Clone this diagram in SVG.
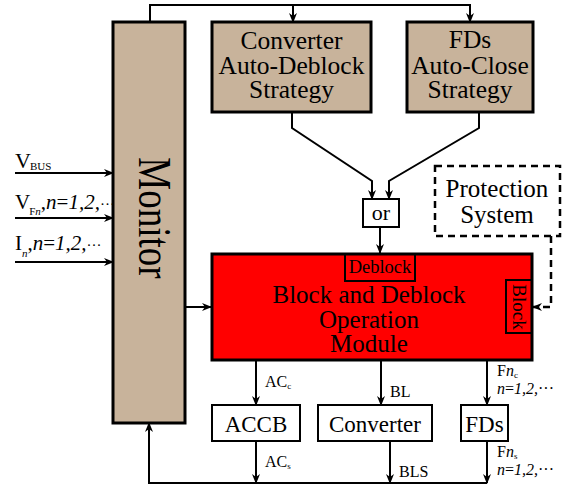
<svg xmlns="http://www.w3.org/2000/svg" width="575" height="491" viewBox="0 0 575 491" font-family="'Liberation Serif', 'DejaVu Serif', serif">
<style>
text{font-family:'Liberation Serif','DejaVu Serif',serif;fill:#000}
.tan{fill:#C8B39B;stroke:#000;stroke-width:3}
.wb{fill:#fff;stroke:#000;stroke-width:2}
.c{fill:none;stroke:#000;stroke-width:2}
.d{fill:none;stroke:#000;stroke-width:2.5;stroke-dasharray:7,5}
.m{text-anchor:middle}
.i{font-style:italic}
</style>
<defs>
<marker id="ah" markerWidth="10" markerHeight="10" refX="9" refY="5" orient="auto" markerUnits="userSpaceOnUse">
<path d="M0,1 L10,5 L0,9 L3,5 z" fill="#000"/>
</marker>
</defs>
<rect width="575" height="491" fill="#fff"/>
<g id="connectors">
<path class="c" d="M150,22 V5 H470 V22" marker-end="url(#ah)"/>
<path class="c" d="M293,5 V22" marker-end="url(#ah)"/>
<path class="c" d="M292,112 V128 L372,181 V199" marker-end="url(#ah)"/>
<path class="c" d="M479,112 V128 L389,181 V199" marker-end="url(#ah)"/>
<path class="c" d="M380,227 V253" marker-end="url(#ah)"/>
<path class="d" d="M551,236 V307 H533" marker-end="url(#ah)"/>
<path class="c" d="M185,307 H211" marker-end="url(#ah)"/>
<path class="c" d="M15,173 H113" marker-end="url(#ah)"/>
<path class="c" d="M15,218 H113" marker-end="url(#ah)"/>
<path class="c" d="M15,262 H113" marker-end="url(#ah)"/>
<path class="c" d="M256,360 V405" marker-end="url(#ah)"/>
<path class="c" d="M381,360 V405" marker-end="url(#ah)"/>
<path class="c" d="M487,360 V405" marker-end="url(#ah)"/>
<path class="c" d="M256,441 V483" marker-end="url(#ah)"/>
<path class="c" d="M390,441 V483" marker-end="url(#ah)"/>
<path class="c" d="M487,441 V483" marker-end="url(#ah)"/>
<path class="c" d="M487,483 H149 V423" marker-end="url(#ah)"/>
</g>
<g id="inputs">
<text x="15" y="168" font-size="22">V<tspan font-size="11" dx="-1" dy="2">BUS</tspan></text>
<text x="15" y="209" font-size="21">V<tspan font-size="11" dx="-1" dy="6">F<tspan class="i">n</tspan></tspan><tspan dy="-6">,</tspan><tspan class="i">n</tspan>=<tspan class="i">1,2,</tspan><tspan font-size="15">···</tspan></text>
<text x="15" y="250" font-size="21">I<tspan font-size="11" dy="7" class="i">n</tspan><tspan dy="-7">,</tspan><tspan class="i">n</tspan>=<tspan class="i">1,2,</tspan><tspan font-size="15">···</tspan></text>
</g>
<g id="monitor">
<rect x="113" y="22" width="72" height="401" class="tan" stroke-width="2.5"/>
<text class="m" font-size="37" transform="translate(139,218) rotate(90) scale(1,1.25)">Monitor</text>
</g>
<g id="converter-strategy">
<rect x="212" y="22" width="159" height="90" class="tan"/>
<text class="m" font-size="25.5"><tspan x="291.5" y="49">Converter</tspan><tspan x="291.5" y="74">Auto-Deblock</tspan><tspan x="291.5" y="98">Strategy</tspan></text>
</g>
<g id="fds-strategy">
<rect x="407" y="22" width="126" height="90" class="tan"/>
<text class="m" font-size="25.5"><tspan x="470" y="48">FDs</tspan><tspan x="470" y="74">Auto-Close</tspan><tspan x="470" y="98">Strategy</tspan></text>
</g>
<g id="or">
<rect x="363" y="199" width="36" height="28" class="wb"/>
<text class="m" x="381" y="220" font-size="22">or</text>
</g>
<g id="protection">
<rect x="435" y="166" width="125" height="70" class="d" fill="#fff"/>
<text class="m" font-size="25"><tspan x="497" y="197">Protection</tspan><tspan x="497" y="223">System</tspan></text>
</g>
<g id="operation-module">
<rect x="212" y="254" width="320" height="106" fill="#FF0000" stroke="#000" stroke-width="3"/>
<rect x="345" y="254" width="70" height="27" fill="none" stroke="#000" stroke-width="2"/>
<text class="m" x="380" y="273" font-size="18.5">Deblock</text>
<rect x="506" y="280" width="26" height="53" fill="none" stroke="#000" stroke-width="2"/>
<text class="m" font-size="19" transform="translate(513,307) rotate(90)">Block</text>
<text class="m" font-size="25"><tspan x="369" y="303">Block and Deblock</tspan><tspan x="369" y="328">Operation</tspan><tspan x="369" y="352">Module</tspan></text>
</g>
<g id="accb">
<rect x="212" y="405" width="88" height="36" class="wb"/>
<text class="m" x="256" y="432" font-size="23">ACCB</text>
</g>
<g id="converter">
<rect x="318" y="405" width="114" height="36" class="wb"/>
<text class="m" x="375" y="432" font-size="23">Converter</text>
</g>
<g id="fds">
<rect x="461" y="405" width="47" height="36" class="wb"/>
<text class="m" x="484.5" y="432" font-size="23">FDs</text>
</g>
<g id="labels">
<text x="265" y="387" font-size="16">AC<tspan font-size="9" dy="2">c</tspan></text>
<text x="390" y="397" font-size="16">BL</text>
<text x="497" y="376" font-size="16">F<tspan class="i">n</tspan><tspan font-size="9" dy="2">c</tspan></text>
<text x="497" y="394" font-size="16" class="i">n<tspan font-style="normal">=</tspan>1,2,<tspan font-style="normal">···</tspan></text>
<text x="265" y="467" font-size="16">AC<tspan font-size="9" dy="2">s</tspan></text>
<text x="399" y="477" font-size="16">BLS</text>
<text x="497" y="457" font-size="16">F<tspan class="i">n</tspan><tspan font-size="9" dy="2">s</tspan></text>
<text x="497" y="475" font-size="16" class="i">n<tspan font-style="normal">=</tspan>1,2,<tspan font-style="normal">···</tspan></text>
</g>
</svg>
